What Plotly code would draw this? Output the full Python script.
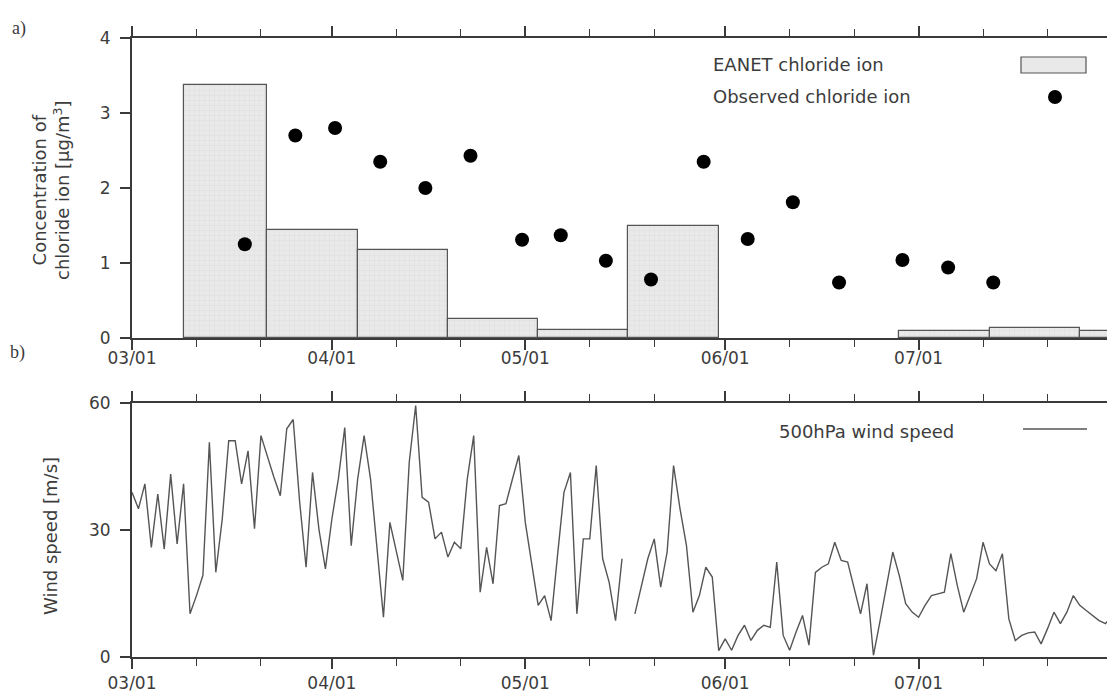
import plotly.graph_objects as go
import pandas as pd

W, H = 1115, 700
OFF = 8  # page body margin offset

# ---------------- data ----------------
# a) EANET chloride ion, biweekly sampling periods
eanet_start = ["2010-03-09", "2010-03-22", "2010-04-05", "2010-04-19", "2010-05-03", "2010-05-17",
               "2010-05-31", "2010-06-14", "2010-06-28", "2010-07-12", "2010-07-26"]
eanet_end = ["2010-03-22", "2010-04-05", "2010-04-19", "2010-05-03", "2010-05-17", "2010-05-31",
             "2010-06-14", "2010-06-28", "2010-07-12", "2010-07-26", "2010-08-09"]
eanet_cl = [3.37, 1.44, 1.18, 0.25, 0.11, 1.50, None, None, 0.10, 0.14, 0.10]

# a) Observed chloride ion
obs_dates = ["2010-03-18 12:00", "2010-03-26 08:00", "2010-04-01 12:00", "2010-04-08 12:00",
             "2010-04-15 12:00", "2010-04-22 12:00", "2010-04-30 12:00", "2010-05-06 12:00",
             "2010-05-13 12:00", "2010-05-20 12:00", "2010-05-28 16:00", "2010-06-04 12:00",
             "2010-06-11 12:00", "2010-06-18 16:00", "2010-06-28 12:00", "2010-07-05 14:00",
             "2010-07-12 14:00"]
obs_cl = [1.25, 2.70, 2.80, 2.35, 2.00, 2.43, 1.31, 1.37, 1.03, 0.78, 2.35, 1.32, 1.81, 0.74,
          1.04, 0.94, 0.74]

# b) 500hPa wind speed, daily from 03/01
wind_start = "2010-03-01"
wind_speed = [
    38.9, 35.0, 40.9, 25.9, 38.5, 25.5, 43.2, 26.7, 40.9, 10.2,
    14.5, 19.3, 50.7, 20.0, 32.6, 51.1, 51.1, 40.9, 48.7, 30.3,
    52.3, 47.2, 42.5, 38.1, 53.9, 56.1, 36.7, 21.2, 43.6, 30.1,
    20.8, 32.6, 42.0, 54.2, 26.3, 42.0, 52.3, 42.0, 26.0, 9.4,
    31.8, 24.8, 18.1, 46.0, 59.4, 37.7, 36.6, 27.9, 29.5, 23.6,
    27.1, 25.6, 42.0, 52.3, 15.3, 25.9, 17.3, 35.8, 36.2, 42.0,
    47.6, 31.8, 22.0, 12.2, 14.5, 8.6, 24.0, 38.9, 43.6, 10.2,
    27.9, 27.9, 45.2, 23.2, 17.7, 8.6, 23.2, None, 10.2, 16.9,
    23.2, 27.9, 16.5, 24.8, 45.2, 35.0, 26.3, 10.6, 14.5, 21.2,
    18.9, 1.5, 4.3, 1.6, 5.1, 7.5, 3.9, 6.3, 7.5, 7.0,
    22.4, 5.1, 1.6, 5.9, 9.8, 2.8, 20.0, 21.2, 22.0, 27.1,
    22.8, 22.4, 16.1, 10.2, 17.3, 0.4, 8.3, 16.1, 24.8, 19.3,
    12.6, 10.6, 9.4, 12.2, 14.5, 14.9, 15.3, 24.4, 16.9, 10.6,
    14.5, 18.5, 27.1, 22.0, 20.4, 24.4, 9.0, 3.9, 5.1, 5.7,
    5.9, 3.1, 6.7, 10.6, 7.9, 10.6, 14.5, 12.2, 11.0, 9.8,
    8.6, 7.9, 9.8,
]

x_range = ["2010-03-01", "2010-07-31"]
month_ticks = ["2010-03-01", "2010-04-01", "2010-05-01", "2010-06-01", "2010-07-01"]
month_labels = ["03/01", "04/01", "05/01", "06/01", "07/01"]
minor_ticks = ["2010-03-11", "2010-03-21", "2010-04-11", "2010-04-21", "2010-05-11", "2010-05-21",
               "2010-06-11", "2010-06-21", "2010-07-11", "2010-07-21"]

# ---------------- derived ----------------
s = pd.to_datetime(eanet_start)
e = pd.to_datetime(eanet_end)
bar_centers = s + (e - s) / 2
bar_widths = [(b - a).total_seconds() * 1000 for a, b in zip(s, e)]
wind_dates = pd.date_range(wind_start, periods=len(wind_speed), freq="D")

AX = "#3a3a3a"
TXT = "#3c3c3c"
FONT = "DejaVu Sans"
BAR_BG = "#e9e9e9"
BAR_FG = "#cfcfcf"
BAR_LINE = "#555555"

fig = go.Figure()

fig.add_trace(go.Bar(
    x=bar_centers, y=eanet_cl, width=bar_widths, xaxis="x", yaxis="y",
    marker=dict(color=BAR_BG, line=dict(color=BAR_LINE, width=1.2),
                pattern=dict(shape="+", bgcolor=BAR_BG, fgcolor=BAR_FG, size=5, solidity=0.15)),
    name="EANET chloride ion", showlegend=False,
))
fig.add_trace(go.Scatter(
    x=pd.to_datetime(obs_dates), y=obs_cl, mode="markers", xaxis="x", yaxis="y",
    marker=dict(color="black", size=14), name="Observed chloride ion", showlegend=False,
))
fig.add_trace(go.Scatter(
    x=wind_dates, y=wind_speed, mode="lines", xaxis="x2", yaxis="y2", connectgaps=False,
    line=dict(color="#555555", width=1.4), name="500hPa wind speed", showlegend=False,
))


def sx(x):
    return (x - OFF) / W


def sy(y):
    return 1 - (y - OFF) / H


x0, x1 = sx(132), sx(1112)
top_dom = [sy(338), sy(38)]
bot_dom = [sy(657), sy(403)]


def xaxis(anchor, standoff):
    return dict(
        type="date", domain=[x0, x1], range=x_range, anchor=anchor, automargin=False,
        tickmode="array", tickvals=month_ticks, ticktext=month_labels,
        ticks="outside", ticklen=10, tickwidth=1.5, tickcolor=AX,
        minor=dict(tickvals=minor_ticks, ticks="outside", ticklen=7, tickwidth=1.3, tickcolor=AX),
        showline=True, linecolor=AX, linewidth=2, mirror="ticks",
        showgrid=False, zeroline=False,
        tickfont=dict(family=FONT, size=17, color=TXT),
        ticklabelstandoff=standoff,
    )


def yaxis(anchor, dom, rng, vals):
    return dict(
        domain=dom, range=rng, anchor=anchor, automargin=False,
        tickmode="array", tickvals=vals,
        ticks="outside", ticklen=10, tickwidth=1.5, tickcolor=AX,
        showline=True, linecolor=AX, linewidth=2, mirror="ticks",
        showgrid=False, zeroline=False,
        tickfont=dict(family=FONT, size=17, color=TXT),
        ticklabelstandoff=6,
    )


fig.update_layout(
    width=W, height=H, autosize=False,
    margin=dict(l=0, r=0, t=0, b=0, autoexpand=False),
    paper_bgcolor="white", plot_bgcolor="white",
    showlegend=False, bargap=0,
    xaxis=xaxis("y", -6),
    yaxis=yaxis("x", top_dom, [0, 4], [0, 1, 2, 3, 4]),
    xaxis2=xaxis("y2", 0),
    yaxis2=yaxis("x2", bot_dom, [0, 60], [0, 30, 60]),
)

annots = []


def text(x, y, t, size=18, anchor="left", angle=0, family=FONT):
    annots.append(dict(x=sx(x), y=sy(y), xref="paper", yref="paper", text=t, showarrow=False,
                       xanchor=anchor, yanchor="middle", textangle=angle,
                       font=dict(family=family, size=size, color=TXT)))


text(10, 28, "a)", size=18, family="Liberation Serif")
text(8, 352, "b)", size=18, family="Liberation Serif")
text(51, 190, "Concentration of<br>chloride ion [μg/m<sup>3</sup>]", size=18, anchor="center", angle=-90)
text(50, 536, "Wind speed [m/s]", size=18, anchor="center", angle=-90)
text(711, 65, "EANET chloride ion", size=18)
text(711, 97, "Observed chloride ion", size=18)
text(777, 431, "500hPa wind speed", size=18)
fig.update_layout(annotations=annots)

shapes = []
shapes.append(dict(type="rect", xref="paper", yref="paper", x0=sx(1021), y0=sy(73), x1=sx(1086), y1=sy(57),
                   fillcolor=BAR_BG, line=dict(color=BAR_LINE, width=1.2)))
shapes.append(dict(type="circle", xref="paper", yref="paper", x0=sx(1048), y0=sy(104), x1=sx(1062), y1=sy(90),
                   fillcolor="black", line=dict(color="black", width=0)))
shapes.append(dict(type="line", xref="paper", yref="paper", x0=sx(1023), y0=sy(429), x1=sx(1087), y1=sy(429),
                   line=dict(color="#555555", width=1.4)))
fig.update_layout(shapes=shapes)

fig.write_html("out.html")
